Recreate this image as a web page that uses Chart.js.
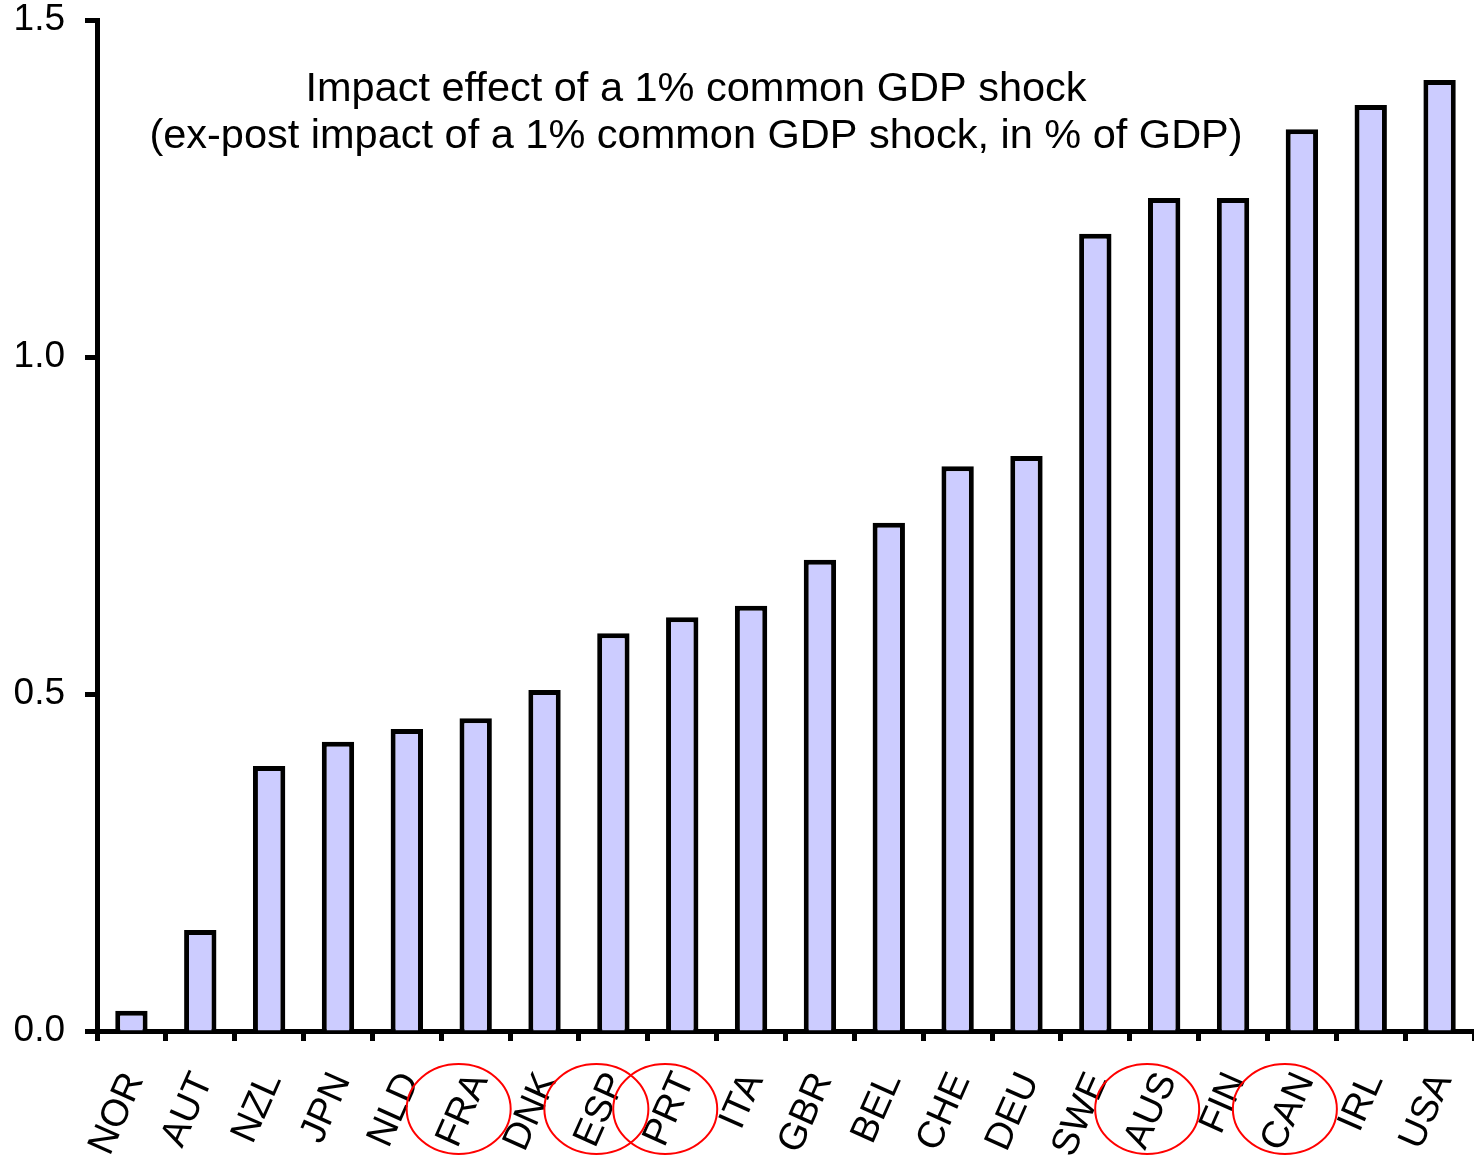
<!DOCTYPE html>
<html>
<head>
<meta charset="utf-8">
<style>
  html, body { margin: 0; padding: 0; background: #fff; }
  #wrap { width: 1474px; height: 1160px; position: relative; }
</style>
<script src="https://cdn.jsdelivr.net/npm/chart.js@4/dist/chart.umd.min.js"></script>
</head>
<body>
<div id="wrap"><canvas id="c" width="1474" height="1160"></canvas></div>
<script>
// Countries, ordered by impact
const countries = ['NOR','AUT','NZL','JPN','NLD','FRA','DNK','ESP','PRT','ITA','GBR','BEL','CHE','DEU','SWE','AUS','FIN','CAN','IRL','USA'];
// Ex-post impact of a 1% common GDP shock, in % of GDP
const impact = [0.03, 0.15, 0.393, 0.429, 0.448, 0.464, 0.506, 0.59, 0.614, 0.631, 0.699, 0.754, 0.838, 0.853, 1.183, 1.236, 1.236, 1.338, 1.374, 1.411];
// Countries whose labels are circled
const circled = ['FRA','ESP','PRT','AUS','CAN'];
// Y-axis tick values
const yTicks = [0, 0.5, 1.0, 1.5];
const titleLines = ['Impact effect of a 1% common GDP shock', '(ex-post impact of a 1% common GDP shock, in % of GDP)'];

Chart.defaults.font.family = "'Liberation Sans', Arial, sans-serif";
Chart.defaults.color = '#000';

const innerTitle = {
  id: 'innerTitle',
  afterDraw(chart) {
    const { ctx, chartArea } = chart;
    ctx.save();
    ctx.fillStyle = '#000';
    ctx.font = "41.5px 'Liberation Sans', Arial, sans-serif";
    ctx.textAlign = 'center';
    ctx.textBaseline = 'middle';
    const cx = chartArea.left + (chartArea.right - chartArea.left) * 0.435;
    ctx.fillText(titleLines[0], cx, chartArea.top + 70);
    ctx.fillText(titleLines[1], cx, chartArea.top + 117);
    ctx.restore();
  }
};

const labelRings = {
  id: 'labelRings',
  afterDraw(chart) {
    const { ctx, chartArea } = chart;
    const x = chart.scales.x;
    ctx.save();
    ctx.strokeStyle = '#ff0000';
    ctx.lineWidth = 2;
    circled.forEach(name => {
      const i = countries.indexOf(name);
      const px = x.getPixelForValue(i) - 17;
      const py = chartArea.bottom + 78;
      ctx.beginPath();
      ctx.ellipse(px, py, 52, 45, 0, 0, Math.PI * 2);
      ctx.stroke();
    });
    ctx.restore();
  }
};

new Chart(document.getElementById('c'), {
  type: 'bar',
  data: {
    labels: countries,
    datasets: [{
      data: impact,
      backgroundColor: '#ccccff',
      borderColor: '#000',
      borderWidth: 5,
      borderSkipped: 'start',
      barPercentage: 0.47,
      categoryPercentage: 1.0
    }]
  },
  options: {
    responsive: false,
    animation: false,
    devicePixelRatio: 1,
    layout: { padding: { top: 20, right: 0, left: 0, bottom: 0 } },
    plugins: { legend: { display: false }, tooltip: { enabled: false }, title: { display: false } },
    scales: {
      x: {
        grid: { display: true, drawOnChartArea: false, drawTicks: true, tickLength: 10, tickWidth: 5, tickColor: '#000', offset: true },
        border: { display: true, color: '#000', width: 5 },
        ticks: {
          font: { size: 38 },
          color: '#000',
          minRotation: 66,
          maxRotation: 66,
          autoSkip: false,
          padding: 25,
          labelOffset: 3
        },
        afterFit(scale) { scale.height = 129; scale.paddingLeft = 0; scale.paddingRight = 0; }
      },
      y: {
        min: 0,
        max: 1.5,
        afterBuildTicks(scale) { scale.ticks = yTicks.map(v => ({ value: v })); },
        grid: { display: true, drawOnChartArea: false, drawTicks: true, tickLength: 12, tickWidth: 5, tickColor: '#000' },
        border: { display: true, color: '#000', width: 5 },
        ticks: {
          font: { size: 37 },
          color: '#000',
          padding: 20,
          callback: v => Number(v).toFixed(1)
        },
        afterFit(scale) { scale.width = 97; scale.paddingTop = 0; scale.paddingBottom = 0; }
      }
    }
  },
  plugins: [innerTitle, labelRings]
});
</script>
</body>
</html>
